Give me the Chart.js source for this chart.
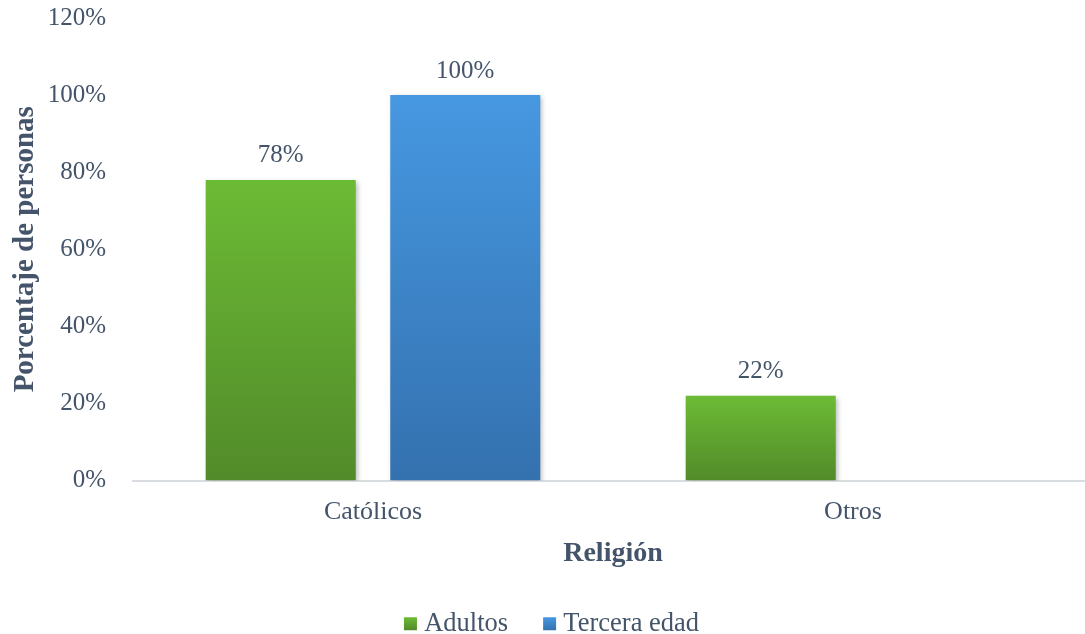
<!DOCTYPE html>
<html>
<head>
<meta charset="utf-8">
<script src="https://cdn.jsdelivr.net/npm/chart.js@4.4.1/dist/chart.umd.min.js"></script>
<style>
  html, body { margin: 0; padding: 0; background: #ffffff; overflow: hidden; }
  #wrap { width: 1085px; height: 634px; overflow: hidden; }
  canvas { display: block; }
</style>
</head>
<body>
<div id="wrap"><canvas id="c" width="1105" height="634"></canvas></div>
<script>
const categories = ['Católicos', 'Otros'];
const adultos = [78, 22];
const terceraEdad = [100, 0];
const yTicks = [0, 20, 40, 60, 80, 100, 120];

const TEXT = '#44546a';
const SERIF = '"Liberation Serif", "Times New Roman", serif';
const GREEN = ['#6cbb35', '#528b2a'];
const BLUE = ['#4698e1', '#3471af'];
const SERIES_COLORS = [GREEN, BLUE];

// vertical gradient spanning each bar from its top to the baseline
function barGradient(cols) {
  return function (ctx) {
    const chart = ctx.chart;
    const y = chart.scales && chart.scales.y;
    if (!chart.chartArea || !y || ctx.raw === undefined) return cols[1];
    const yTop = y.getPixelForValue(ctx.raw);
    const yBase = y.getPixelForValue(0);
    if (Math.abs(yBase - yTop) < 1) return cols[1];
    const g = chart.ctx.createLinearGradient(0, yTop, 0, yBase);
    g.addColorStop(0, cols[0]);
    g.addColorStop(1, cols[1]);
    return g;
  };
}

// soft drop shadow under the bars
const barShadow = {
  id: 'barShadow',
  beforeDatasetsDraw(chart) {
    const c = chart.ctx;
    c.save();
    c.shadowColor = 'rgba(0,0,0,0.28)';
    c.shadowBlur = 5;
    c.shadowOffsetX = 2;
    c.shadowOffsetY = 2;
  },
  afterDatasetsDraw(chart) {
    chart.ctx.restore();
  }
};

// percentage labels above each non-zero bar
const valueLabels = {
  id: 'valueLabels',
  afterDatasetsDraw(chart) {
    const c = chart.ctx;
    c.save();
    c.font = '25px ' + SERIF;
    c.fillStyle = TEXT;
    c.textAlign = 'center';
    c.textBaseline = 'middle';
    chart.data.datasets.forEach((ds, i) => {
      const meta = chart.getDatasetMeta(i);
      meta.data.forEach((bar, j) => {
        const v = ds.data[j];
        if (!v) return;
        c.fillText(v + '%', bar.x, bar.y - 24);
      });
    });
    c.restore();
  }
};

// legend swatches: small gradient squares sitting close to their text
const legendSwatches = {
  id: 'legendSwatches',
  afterDraw(chart) {
    const lg = chart.legend;
    if (!lg || !lg.legendHitBoxes) return;
    const c = chart.ctx;
    const size = 13;
    lg.legendHitBoxes.forEach((hb, i) => {
      const cols = SERIES_COLORS[i];
      const x = hb.left + 6;
      const y = hb.top + hb.height / 2 - size / 2;
      const g = c.createLinearGradient(0, y, 0, y + size);
      g.addColorStop(0, cols[0]);
      g.addColorStop(1, cols[1]);
      c.fillStyle = g;
      c.fillRect(x, y, size, size);
    });
  }
};

new Chart(document.getElementById('c'), {
  type: 'bar',
  data: {
    labels: categories,
    datasets: [
      { label: 'Adultos', data: adultos, backgroundColor: barGradient(GREEN), borderWidth: 0 },
      { label: 'Tercera edad', data: terceraEdad, backgroundColor: barGradient(BLUE), borderWidth: 0 }
    ]
  },
  options: {
    responsive: false,
    animation: false,
    categoryPercentage: 0.769,
    barPercentage: 0.813,
    layout: { autoPadding: false, padding: { top: 18, right: 12, left: 4, bottom: -13 } },
    plugins: {
      tooltip: { enabled: false },
      legend: {
        position: 'bottom',
        labels: {
          color: TEXT,
          font: { family: SERIF, size: 26.5 },
          boxWidth: 13,
          boxHeight: 13,
          padding: 29,
          generateLabels(chart) {
            return chart.data.datasets.map((ds, i) => ({
              text: ds.label,
              fillStyle: 'rgba(0,0,0,0)',
              strokeStyle: 'rgba(0,0,0,0)',
              lineWidth: 0,
              fontColor: TEXT,
              datasetIndex: i,
              hidden: false
            }));
          }
        }
      }
    },
    scales: {
      x: {
        afterFit(scale) { scale.height = 101; },
        grid: { display: false, drawTicks: false },
        border: { display: true, color: '#d9dde2', width: 2 },
        ticks: { color: TEXT, font: { family: SERIF, size: 26 }, padding: 16 },
        title: {
          display: true,
          text: 'Religión',
          color: TEXT,
          font: { family: SERIF, size: 28, weight: 'bold' },
          padding: { top: 0, bottom: 11 }
        }
      },
      y: {
        min: 0,
        max: 120,
        afterFit(scale) {
          scale.width = 129;
          scale.paddingTop = 0;
          scale.paddingBottom = 0;
        },
        afterBuildTicks(scale) { scale.ticks = yTicks.map(v => ({ value: v })); },
        grid: { display: false, drawTicks: false },
        border: { display: false },
        ticks: {
          color: TEXT,
          font: { family: SERIF, size: 25 },
          padding: 27,
          callback: v => v + '%'
        },
        title: {
          display: true,
          text: 'Porcentaje de personas',
          color: TEXT,
          font: { family: SERIF, size: 29, weight: 'bold' },
          padding: { top: 4, bottom: 0 }
        }
      }
    }
  },
  plugins: [barShadow, valueLabels, legendSwatches]
});
</script>
</body>
</html>
